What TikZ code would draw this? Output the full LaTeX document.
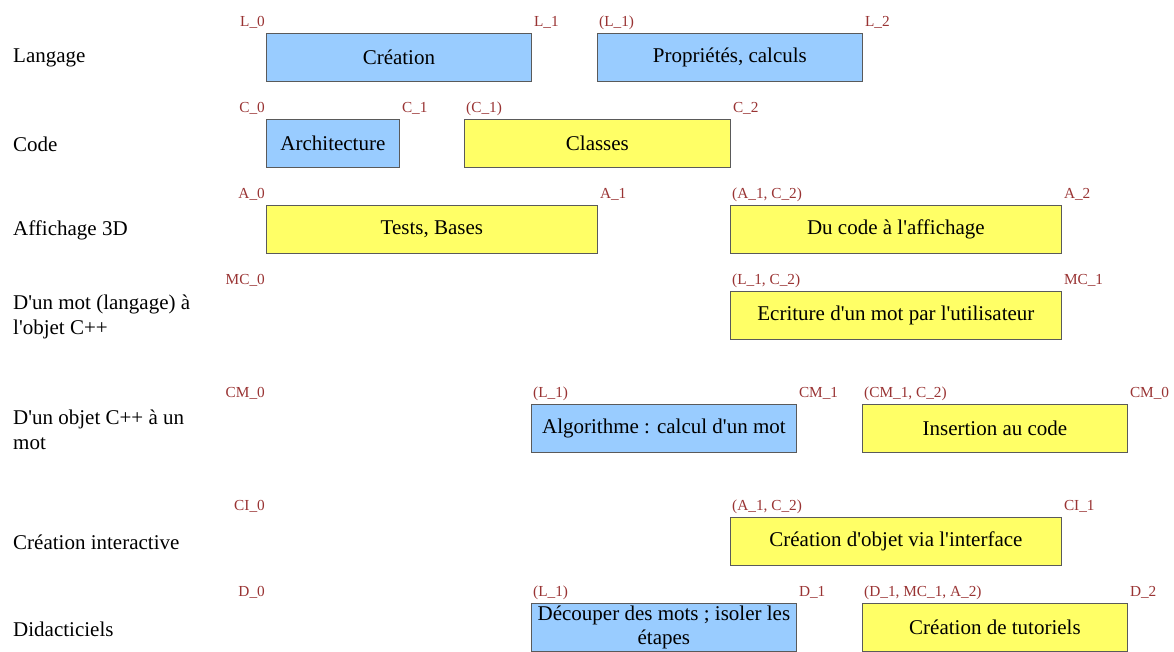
\documentclass[tikz,border=0pt]{standalone}
\usepackage{fontspec}
\setmainfont{Liberation Serif}
\newcommand{\apos}{\textquotesingle}
\definecolor{bluefill}{HTML}{99CCFF}
\definecolor{yellowfill}{HTML}{FFFF66}
\definecolor{tagred}{HTML}{993333}
\definecolor{edgegray}{HTML}{5A5A5A}

\tikzset{
  task/.style={draw=edgegray, line width=0.8pt, anchor=north west, minimum height=48pt,
    inner sep=0pt, align=center, font=\fontsize{21}{23.5}\selectfont},
  bluetask/.style={task, fill=bluefill},
  yellowtask/.style={task, fill=yellowfill},
  tag/.style={text=tagred, font=\fontsize{15.3}{17}\selectfont, anchor=base west, inner sep=0pt},
  starttag/.style={tag, anchor=base east},
  rowname/.style={anchor=west, align=left, inner sep=0pt, font=\fontsize{21}{25}\selectfont}
}

\begin{document}
\begin{tikzpicture}[x=1pt, y=-1pt]
    \useasboundingbox (0,0) rectangle (1174,651);
    % Row names.
    \node[rowname] (langage) at (13,58) {Langage};
    \node[rowname] (code) at (13,144) {Code};
    \node[rowname] (affichage) at (13,230) {Affichage 3D};
    \node[rowname] (motobjet) at (13,317) {D\apos un mot (langage) à\\l\apos objet C++};
    \node[rowname] (objetmot) at (13,430) {D\apos un objet C++ à un\\mot};
    \node[rowname] (interactive) at (13,542) {Création interactive};
    \node[rowname] (didacticiels) at (13,629) {Didacticiels};
    % Langage.
    \node[bluetask, minimum width=265pt] (creation) at (266,33) {Création};
    \node[bluetask, minimum width=265pt] (proprietes) at (597,33) {Propriétés, calculs};
    \node[starttag] (L0) at (265,26) {L\_0};
    \node[tag] (L1) at ([xshift=2pt,yshift=7pt]creation.north east) {L\_1};
    \node[tag] (L1b) at ([xshift=2pt,yshift=7pt]proprietes.north west) {(L\_1)};
    \node[tag] (L2) at ([xshift=2pt,yshift=7pt]proprietes.north east) {L\_2};
    % Code.
    \node[bluetask, minimum width=133pt] (architecture) at (266,119) {Architecture};
    \node[yellowtask, minimum width=266pt] (classes) at (464,119) {Classes};
    \node[starttag] (C0) at (265,112) {C\_0};
    \node[tag] (C1) at ([xshift=2pt,yshift=7pt]architecture.north east) {C\_1};
    \node[tag] (C1b) at ([xshift=2pt,yshift=7pt]classes.north west) {(C\_1)};
    \node[tag] (C2) at ([xshift=2pt,yshift=7pt]classes.north east) {C\_2};
    % Affichage 3D.
    \node[yellowtask, minimum width=331pt] (tests) at (266,205) {Tests, Bases};
    \node[yellowtask, minimum width=331pt] (ducode) at (730,205) {Du code à l\apos affichage};
    \node[starttag] (A0) at (265,198) {A\_0};
    \node[tag] (A1) at ([xshift=2pt,yshift=7pt]tests.north east) {A\_1};
    \node[tag] (A1b) at ([xshift=2pt,yshift=7pt]ducode.north west) {(A\_1, C\_2)};
    \node[tag] (A2) at ([xshift=2pt,yshift=7pt]ducode.north east) {A\_2};
    % Mot vers objet.
    \node[yellowtask, minimum width=331pt] (ecriture) at (730,291) {Ecriture d\apos un mot par l\apos utilisateur};
    \node[starttag] (MC0) at (265,284) {MC\_0};
    \node[tag] (MC0b) at ([xshift=2pt,yshift=7pt]ecriture.north west) {(L\_1, C\_2)};
    \node[tag] (MC1) at ([xshift=2pt,yshift=7pt]ecriture.north east) {MC\_1};
    % Objet vers mot.
    \node[bluetask, minimum width=265pt] (algorithme) at (531,404) {Algorithme : calcul d\apos un mot};
    \node[yellowtask, minimum width=265pt] (insertion) at (862,404) {Insertion au code};
    \node[starttag] (CM0) at (265,397) {CM\_0};
    \node[tag] (CM0b) at ([xshift=2pt,yshift=7pt]algorithme.north west) {(L\_1)};
    \node[tag] (CM1) at ([xshift=2pt,yshift=7pt]algorithme.north east) {CM\_1};
    \node[tag] (CM1b) at ([xshift=2pt,yshift=7pt]insertion.north west) {(CM\_1, C\_2)};
    \node[tag] (CM0c) at ([xshift=2pt,yshift=7pt]insertion.north east) {CM\_0};
    % Création interactive.
    \node[yellowtask, minimum width=331pt] (viainterface) at (730,517) {Création d\apos objet via l\apos interface};
    \node[starttag] (CI0) at (265,510) {CI\_0};
    \node[tag] (CI0b) at ([xshift=2pt,yshift=7pt]viainterface.north west) {(A\_1, C\_2)};
    \node[tag] (CI1) at ([xshift=2pt,yshift=7pt]viainterface.north east) {CI\_1};
    % Didacticiels.
    \node[bluetask, minimum width=265pt] (decouper) at (531,603) {Découper des mots ; isoler les\\étapes};
    \node[yellowtask, minimum width=265pt] (tutoriels) at (862,603) {Création de tutoriels};
    \node[starttag] (D0) at (265,596) {D\_0};
    \node[tag] (D0b) at ([xshift=2pt,yshift=7pt]decouper.north west) {(L\_1)};
    \node[tag] (D1) at ([xshift=2pt,yshift=7pt]decouper.north east) {D\_1};
    \node[tag] (D1b) at ([xshift=2pt,yshift=7pt]tutoriels.north west) {(D\_1, MC\_1, A\_2)};
    \node[tag] (D2) at ([xshift=2pt,yshift=7pt]tutoriels.north east) {D\_2};
\end{tikzpicture}
\end{document}
